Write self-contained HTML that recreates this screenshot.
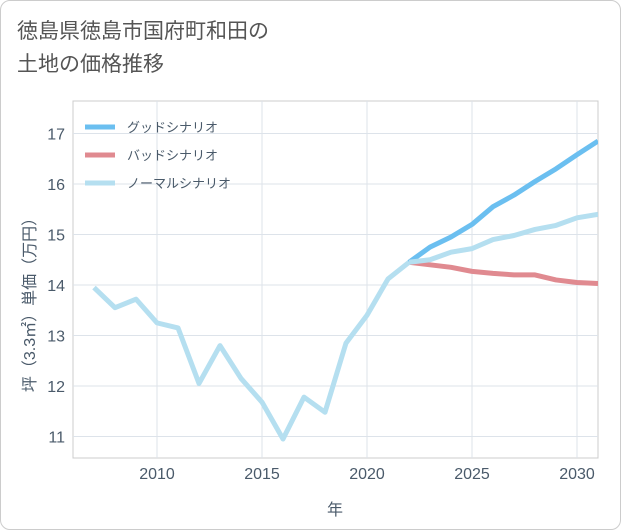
<!DOCTYPE html>
<html><head><meta charset="utf-8"><style>
body{margin:0;background:#fff;font-family:"Liberation Sans","Noto Sans CJK JP",sans-serif;}
#wrap{position:relative;width:619px;height:528px;border:1px solid #ccc;border-radius:10px;background:#fff;overflow:hidden}
#title{position:absolute;left:16px;top:14px;font-size:21px;line-height:33px;color:#555;font-family:"Liberation Sans","Noto Sans CJK JP",sans-serif}
svg{position:absolute;left:0;top:0}
</style></head><body>
<div id="wrap">
<div id="title">徳島県徳島市国府町和田の<br>土地の価格推移</div>
<svg id="chart" width="621" height="530"></svg>
</div>
<script>
const years=[2007,2008,2009,2010,2011,2012,2013,2014,2015,2016,2017,2018,2019,2020,2021,2022];
const hist=[13.95,13.55,13.72,13.25,13.15,12.05,12.8,12.15,11.68,10.95,11.78,11.48,12.85,13.4,14.12,14.45];
const fYears=[2022,2023,2024,2025,2026,2027,2028,2029,2030,2031];
const good=[14.45,14.75,14.95,15.2,15.55,15.78,16.05,16.3,16.58,16.85];
const bad=[14.45,14.4,14.35,14.27,14.23,14.2,14.2,14.1,14.05,14.03];
const normal=[14.45,14.5,14.65,14.72,14.9,14.98,15.1,15.18,15.33,15.4];
const xTicks=[2010,2015,2020,2025,2030];
const yTicks=[11,12,13,14,15,16,17];
const legendLabels=["グッドシナリオ","バッドシナリオ","ノーマルシナリオ"];
const NS="http://www.w3.org/2000/svg";
const svg=document.getElementById('chart');
const L=72,R=597,T=100,B=457;
const x=v=>156+(v-2010)*21;
const y=v=>284-(v-14)*50.5;
function mk(t,a,p){const e=document.createElementNS(NS,t);for(const k in a)e.setAttribute(k,a[k]);(p||svg).appendChild(e);return e;}
mk('rect',{x:L,y:T,width:R-L,height:B-T,fill:'none',stroke:'#ccc'});
xTicks.forEach(t=>{const g=mk('line',{x1:x(t),x2:x(t),y1:T,y2:B,stroke:'#dde3ea'});

const tx=mk('text',{x:x(t),y:478,'text-anchor':'middle','font-size':16,fill:'#4a5a6a'});tx.textContent=t;
});
yTicks.forEach(t=>{const g=mk('line',{x1:L,x2:R,y1:y(t),y2:y(t),stroke:'#dde3ea'});

const tx=mk('text',{x:64,y:y(t)+6,'text-anchor':'end','font-size':16,fill:'#4a5a6a'});tx.textContent=t;
});
const xt=mk('text',{x:334,y:514,'text-anchor':'middle','font-size':16,fill:'#4a5a6a'});xt.textContent='年';

const yt=mk('text',{x:0,y:0,'text-anchor':'middle','font-size':16,fill:'#4a5a6a',transform:'translate(34,300) rotate(-90)'});yt.textContent='坪（3.3㎡）単価（万円）';

const cp=mk('clipPath',{id:'cp'});mk('rect',{x:L,y:T,width:R-L,height:B-T},cp);
function line(xs,ys,c,name){const p=mk('polyline',{points:xs.map((v,i)=>x(v)+','+y(ys[i])).join(' '),fill:'none',stroke:c,'stroke-width':5,'stroke-linejoin':'round','clip-path':'url(#cp)'});
}
line(fYears,good,'#6bbff0','good-scenario-line');
line(fYears,bad,'#e08a90','bad-scenario-line');
line(fYears,normal,'#b5dff0','normal-scenario-line');
line(years,hist,'#b5dff0','historical-line');
const lc=['#6bbff0','#e08a90','#b5dff0'];
legendLabels.forEach((s,i)=>{const yy=126+i*28;
const l=mk('line',{x1:84,x2:114,y1:yy,y2:yy,stroke:lc[i],'stroke-width':5});

const t=mk('text',{x:126,y:yy+5,'font-size':13,fill:'#4a5a6a'});t.textContent=s;
});
</script>
</body></html>
